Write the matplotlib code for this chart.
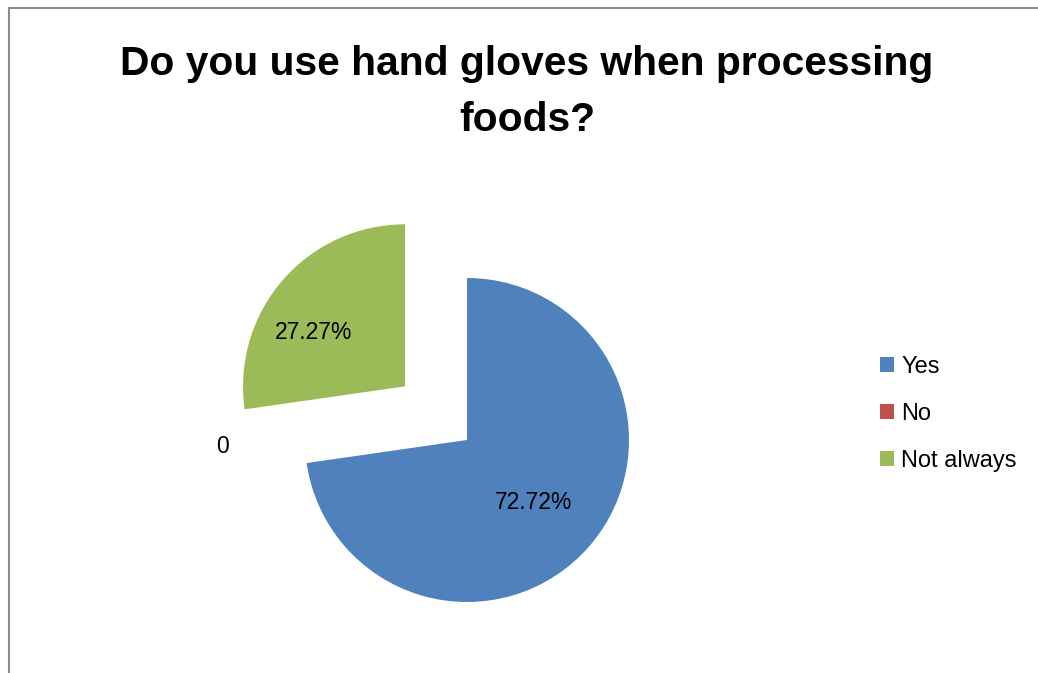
import matplotlib.pyplot as plt
import numpy as np
from matplotlib.patches import Patch
from matplotlib.lines import Line2D

plt.rcParams['font.family'] = ['Liberation Sans', 'DejaVu Sans']

# Data
categories = ['Yes', 'No', 'Not always']
values = [72.72, 0, 27.27]
value_labels = ['72.72%', '0', '27.27%']
colors = ['#4F81BD', '#C0504D', '#9BBB59']
explode = [0, 0, 0.506]

# label placement (distance from wedge corner, angle shift from bisector)
label_dist = [0.564, 1.51, 0.653]
label_shift = [-1.9, -6.6, 10.4]

W, H = 1038, 673
fig = plt.figure(figsize=(W / 100, H / 100), dpi=100)

# one data unit = pie radius = 162 px; pie corner at (467, 440) px
R = 162.0
cx, cy = 467.0, 440.0
ax = fig.add_axes([0, 0, 1, 1])

wedges, _ = ax.pie(values, colors=colors, explode=explode, startangle=90,
                   counterclock=False, radius=1, center=(0, 0),
                   wedgeprops=dict(linewidth=0))
ax.set_aspect('auto')
ax.set_xlim(-cx / R, (W - cx) / R)
ax.set_ylim(-(H - cy) / R, cy / R)
ax.axis('off')

for w, lab, d, sh in zip(wedges, value_labels, label_dist, label_shift):
    mid = np.deg2rad((w.theta1 + w.theta2) / 2 + sh)
    x0, y0 = w.center
    ax.text(x0 + d * np.cos(mid), y0 + d * np.sin(mid), lab,
            ha='center', va='center', fontsize=16.5, color='black')

handles = [Patch(facecolor=c, edgecolor='none') for c in colors]
fig.legend(handles, categories, loc='center left',
           bbox_to_anchor=(868 / W, 1 - 414 / H), frameon=False,
           fontsize=17, handlelength=0.6, handleheight=0.6,
           handletextpad=0.3, labelspacing=1.05, borderpad=0)

fig.text(527 / W, 1 - 92 / H,
         'Do you use hand gloves when processing\nfoods?',
         ha='center', va='center', fontsize=29.3, fontweight='bold',
         linespacing=1.57)

# chart border (left and top edges visible)
fig.add_artist(Line2D([8.5 / W, 8.5 / W], [0, 1 - 7.5 / H], color='#8c8c8c', lw=1.5))
fig.add_artist(Line2D([8.5 / W, 1], [1 - 7.5 / H, 1 - 7.5 / H], color='#8c8c8c', lw=1.5))

fig.savefig('out.png', dpi=100)
